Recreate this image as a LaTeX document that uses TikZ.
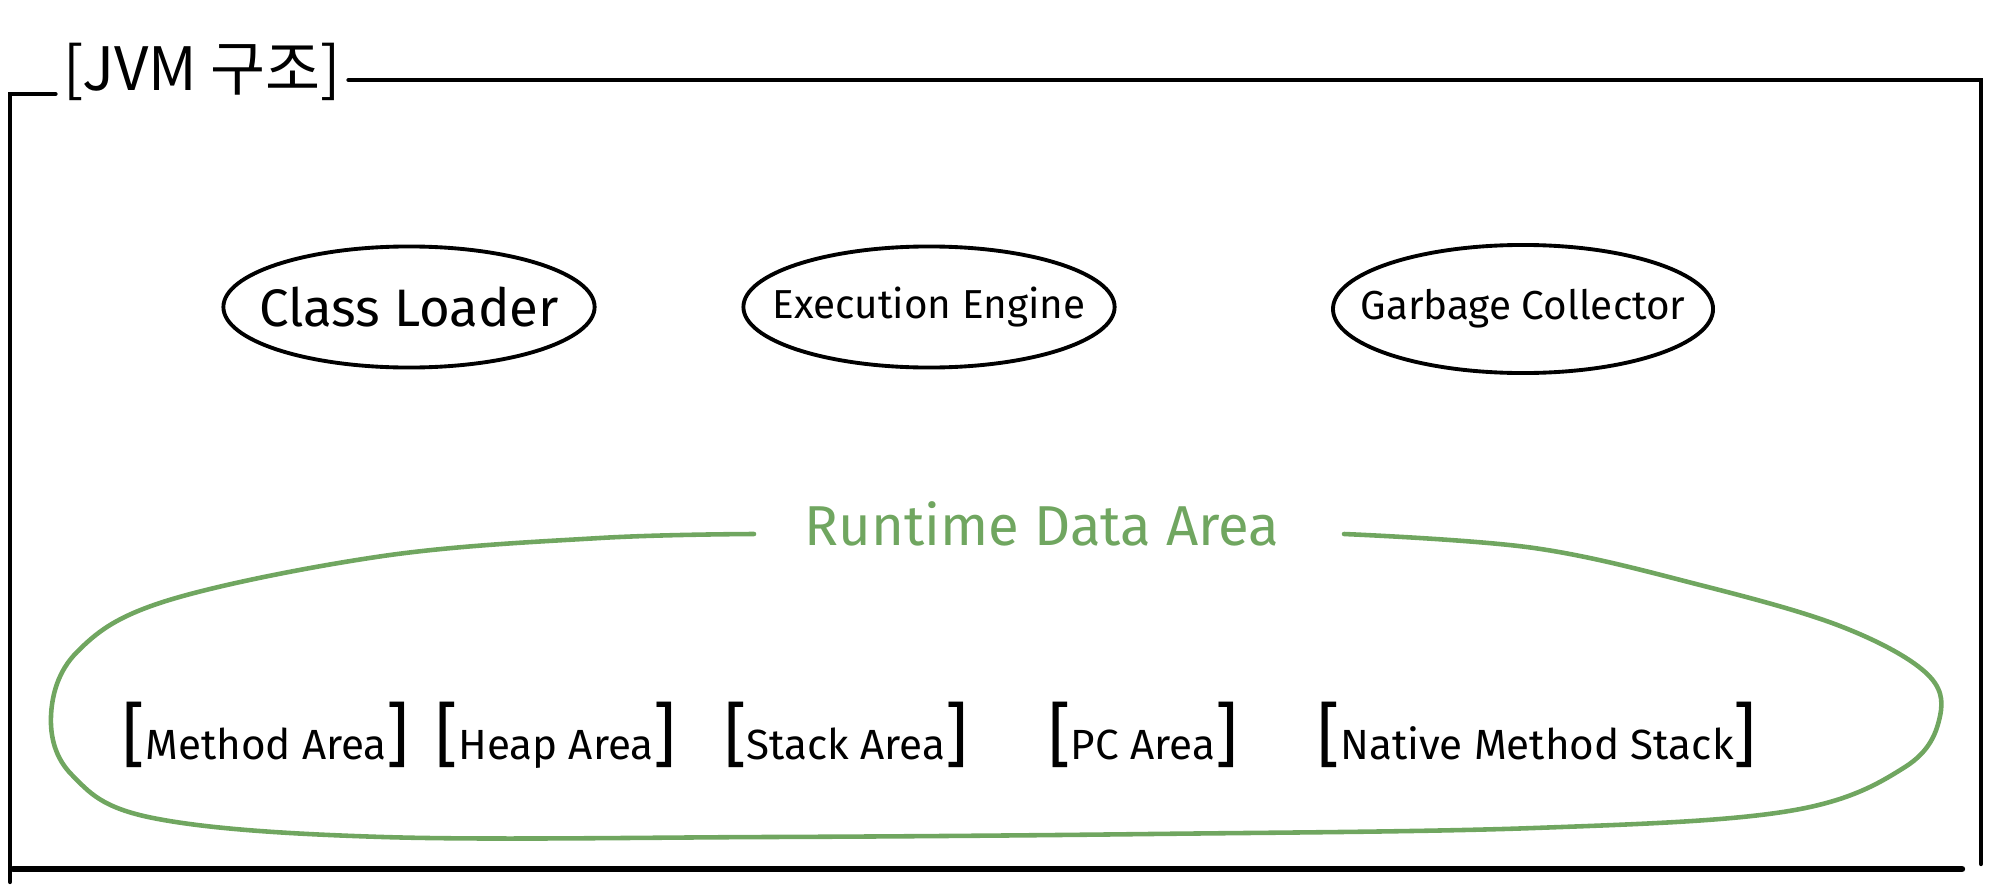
\documentclass[tikz,border=0pt]{standalone}
\usepackage{fontspec}
\setmainfont{Fira Sans}
\newfontfamily\krfont{Noto Sans CJK KR}
\usetikzlibrary{shapes.geometric}
\definecolor{areagreen}{RGB}{112,166,96}
\newcommand{\lbr}{{\fontsize{20}{20}\selectfont[}}
\newcommand{\rbr}{{\fontsize{20}{20}\selectfont]}}

\begin{document}
\begin{tikzpicture}[x=0.01cm, y=-0.01cm,
    frame/.style={line width=1.2pt, line cap=round},
    part/.style={draw, ellipse, line width=1.1pt, inner xsep=-8pt, inner ysep=0pt,
      minimum width=3.71cm, minimum height=1.21cm, font=\fontsize{11.5}{14}\selectfont},
    region/.style={inner sep=1pt, font=\fontsize{12}{14}\selectfont}]
  \useasboundingbox (0,0) rectangle (2004,888);

  % frame with title
  \node[inner sep=2pt, font=\krfont\fontsize{17}{19}\selectfont] (title) at (202,72) {[JVM 구조]};
  \coordinate (fbl) at (10,882);
  \coordinate (ftl) at (10,94);
  \coordinate (ftr) at (1981,80);
  \coordinate (fbr) at (1981,864);
  \coordinate (bl) at (13,869);
  \coordinate (br) at (1962,869);
  \draw[frame] (fbl) -- (ftl) -- (title.west |- ftl);
  \draw[frame] (title.east |- ftr) -- (ftr) -- (fbr);
  \draw[frame, line width=1.8pt] (bl) -- (br);

  % components
  \node[part, font=\fontsize{15}{17}\selectfont, inner xsep=-10pt] (loader) at (409,307) {Class Loader};
  \node[part] (engine) at (929,307) {Execution Engine};
  \node[part, minimum height=1.28cm] (gc) at (1523,309) {Garbage Collector};

  % runtime data area
  \node[text=areagreen, font=\fontsize{16}{18}\selectfont] (rda) at (1042,524) {Runtime Data Area};
  \draw[areagreen, line width=1.3pt, line cap=round] plot[smooth, tension=0.6] coordinates {
    (1344,534) (1534,548) (1700,585) (1840,626) (1925,672) (1940,716)
    (1905,767) (1789,811) (1534,828) (1150,834) (767,837) (383,837)
    (153,818) (72,775) (51,716) (77,652) (166,601) (383,556) (600,538) (754,534)};

  \node[region] (method) at (266,735) {\lbr Method Area\rbr};
  \node[region] (heap) at (556,735) {\lbr Heap Area\rbr};
  \node[region] (stack) at (846,735) {\lbr Stack Area\rbr};
  \node[region] (pc) at (1143,735) {\lbr PC Area\rbr};
  \node[region] (native) at (1537,735) {\lbr Native Method Stack\rbr};
\end{tikzpicture}
\end{document}
